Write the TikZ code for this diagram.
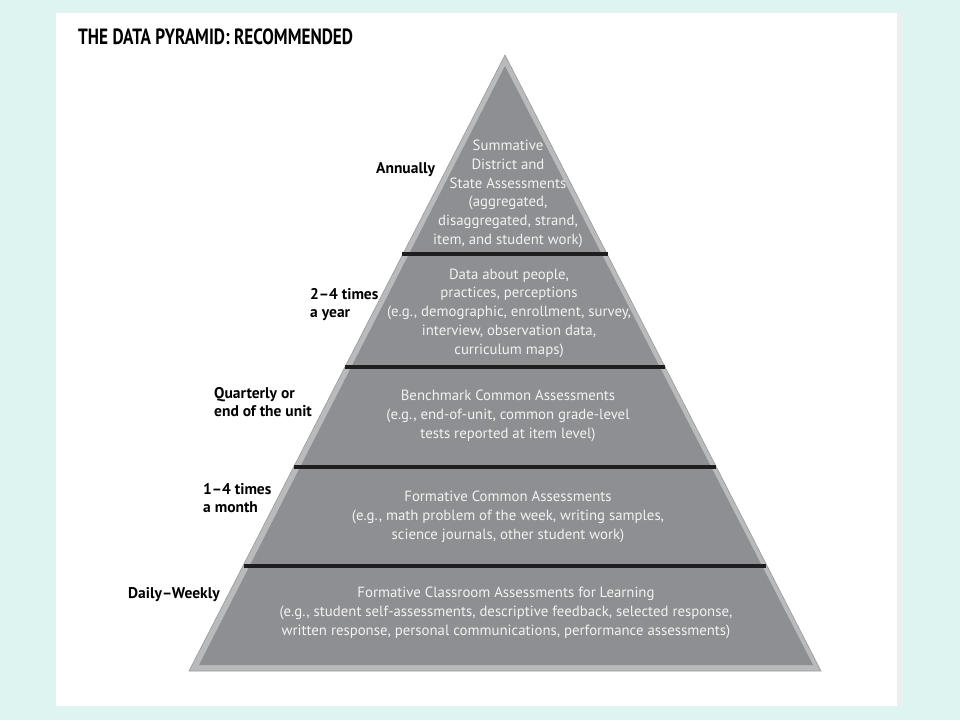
\documentclass[tikz,border=0pt]{standalone}
\usepackage{fontspec}
\setmainfont{PT Sans}
\usepackage{graphicx}
\definecolor{bgcyan}{HTML}{DDF4F0}
\definecolor{edgegray}{HTML}{B8BABC}
\definecolor{fillgray}{HTML}{8E8F92}
\definecolor{bardark}{HTML}{1E1E1E}
\definecolor{txtlight}{HTML}{F2F2F2}
\definecolor{stripgray}{HTML}{EEEEEE}
\begin{document}
\begin{tikzpicture}[x=1pt,y=-1pt,
  tier/.style={text=txtlight,align=center,font=\fontsize{14.8}{18.7}\selectfont,inner sep=0pt},
  freq/.style={text=black,align=left,anchor=west,font=\bfseries\fontsize{15.5}{18}\selectfont,inner sep=0pt},
  sepbar/.style={draw=bardark,line width=4.5pt}]
\useasboundingbox (0,0) rectangle (960,720);
\fill[bgcyan] (0,0) rectangle (960,720);
\fill[stripgray] (896,13) rectangle (903,706);
\fill[white] (56,13) rectangle (897,706);
% pyramid
\coordinate (apex) at (505,55);
\coordinate (bl) at (189,671);
\coordinate (br) at (821,671);
\filldraw[fill=edgegray,draw=gray!80,line width=0.6pt] (apex) -- (bl) -- (br) -- cycle;
\fill[fillgray] (505,66) -- (199,665) -- (813,665) -- cycle;
% separators
\draw[sepbar] (402,254) -- (608,254);
\draw[sepbar] (345,367) -- (665,367);
\draw[sepbar] (294,467) -- (716,467);
\draw[sepbar] (244,566) -- (766,566);
% title
\node[anchor=west,inner sep=0pt] (title) at (78,37) {\scalebox{0.82}[1.05]{\bfseries\fontsize{21}{24}\selectfont THE DATA PYRAMID: RECOMMENDED}};
% tier texts
\node[tier] (t1) at (508,194) {Summative\\District and\\State Assessments\\(aggregated,\\disaggregated, strand,\\item, and student work)};
\node[tier] (t2) at (509,313) {Data about people,\\practices, perceptions\\(e.g., demographic, enrollment, survey,\\interview, observation data,\\curriculum maps)};
\node[tier] (t3) at (508,416) {Benchmark Common Assessments\\(e.g., end-of-unit, common grade-level\\tests reported at item level)};
\node[tier] (t4) at (508,517) {Formative Common Assessments\\(e.g., math problem of the week, writing samples,\\science journals, other student work)};
\node[tier] (t5) at (506,613) {Formative Classroom Assessments for Learning\\(e.g., student self-assessments, descriptive feedback, selected response,\\written response, personal communications, performance assessments)};
% frequency labels
\node[freq] (f1) at (376,170) {Annually};
\node[freq] (f2) at (310,305) {2--4 times\\a year};
\node[freq] (f3) at (214,402) {Quarterly or\\end of the unit};
\node[freq] (f4) at (203,498) {1--4 times\\a month};
\node[freq] (f5) at (128,595) {Daily--Weekly};
\end{tikzpicture}
\end{document}
